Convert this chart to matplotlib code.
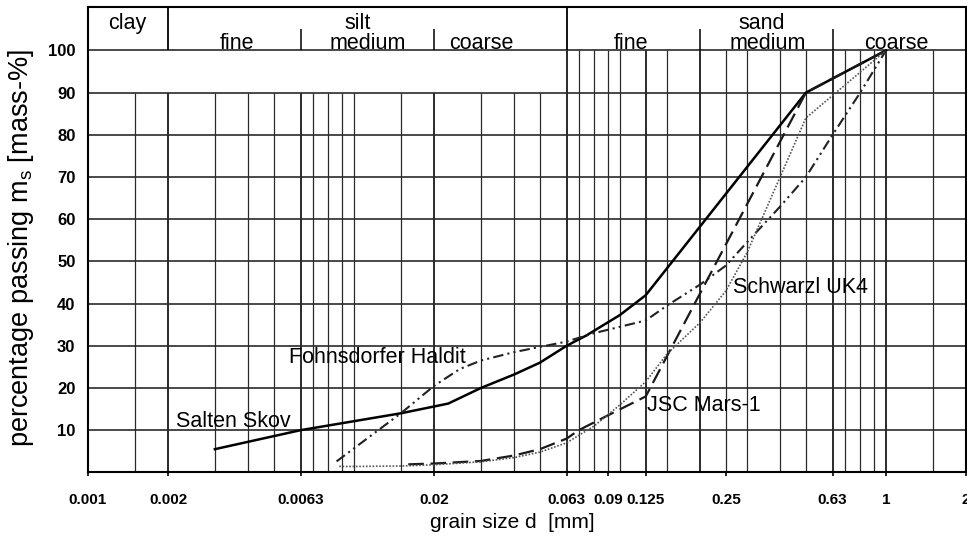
import matplotlib
matplotlib.use("Agg")
import matplotlib.pyplot as plt

plt.rcParams["font.family"] = ["Liberation Sans", "DejaVu Sans"]
plt.rcParams["mathtext.default"] = "regular"

# grain size d [mm] vs. percentage passing [mass-%] for each material
salten_d = [0.003, 0.0063, 0.015, 0.0226, 0.03, 0.04, 0.05, 0.063, 0.075, 0.1, 0.125, 0.5, 1.0]
salten_p = [5.5, 10, 14, 16.3, 20, 23.2, 26, 30, 32.5, 37.3, 42, 90, 100]

fohns_d = [0.0086, 0.015, 0.02, 0.025, 0.03, 0.04, 0.063, 0.08, 0.1, 0.125, 0.15, 0.2, 0.25,
           0.3, 0.4, 0.5, 0.63, 0.8, 1.0]
fohns_p = [2.6, 14, 20.5, 24.5, 26.5, 28.5, 31, 33, 34.5, 36, 39.5, 44.5, 49,
           54.5, 63, 70, 80, 90, 100]

jsc_d = [0.016, 0.02, 0.03, 0.04, 0.05, 0.063, 0.07, 0.09, 0.125, 0.5, 1.0]
jsc_p = [1.9, 2.1, 2.7, 4, 5.5, 8, 10, 13.5, 18, 90, 100]

schw_d = [0.0088, 0.01, 0.015, 0.02, 0.03, 0.04, 0.05, 0.063, 0.08, 0.1, 0.125, 0.15, 0.2,
          0.25, 0.3, 0.4, 0.5, 1.0]
schw_p = [1.4, 1.4, 1.5, 1.8, 2.5, 3.5, 4.8, 7, 11, 16, 21.5, 28, 35.5,
          43, 52, 70, 84, 100]

xticks = [0.001, 0.002, 0.0063, 0.02, 0.063, 0.09, 0.125, 0.25, 0.63, 1, 2]
xtick_labels = ["0.001", "0.002", "0.0063", "0.02", "0.063", "0.09", "0.125", "0.25", "0.63", "1", "2"]
yticks = [10, 20, 30, 40, 50, 60, 70, 80, 90, 100]

# grid lines of the sieve chart: clay/silt part stops at 90 %, sand part runs to 100 %
grid_fine = [0.0015, 0.002, 0.003, 0.004, 0.005, 0.0063, 0.007, 0.008, 0.009, 0.01,
             0.015, 0.02, 0.03, 0.04, 0.05]
grid_sand = [0.063, 0.07, 0.08, 0.09, 0.1, 0.125, 0.15, 0.2, 0.25, 0.3, 0.4, 0.5,
             0.63, 0.7, 0.8, 0.9, 1.0, 1.5]
heavy = [0.002, 0.0063, 0.02, 0.063, 0.125, 0.2, 0.63, 1.0]

# soil class header
classes = ["clay", "silt", "sand"]
class_x = [0.00141, 0.0103, 0.34]
sub_names = ["fine", "medium", "coarse", "fine", "medium", "coarse"]
sub_x = [0.00363, 0.0113, 0.030, 0.110, 0.360, 1.09]
class_edges = [0.002, 0.063]
sub_edges = [0.0063, 0.02, 0.2, 0.63]

YTOP = 110.3
GRID = "#2a2a2a"

fig = plt.figure(figsize=(9.67, 5.38), dpi=100)
ax = fig.add_axes([0.091, 0.122, 0.908, 0.865])
ax.set_xscale("log")
ax.set_xlim(0.001, 2)
ax.set_ylim(0, YTOP)

for x in grid_fine:
    ax.vlines(x, 0, 90, color=GRID, lw=1.4 if x in heavy else 0.9, zorder=1)
for x in grid_sand:
    ax.vlines(x, 0, 100, color=GRID, lw=1.4 if x in heavy else 0.9, zorder=1)
ax.hlines(yticks, 0.001, 2, color=GRID, lw=1.2, zorder=1)
ax.vlines(class_edges, 100, YTOP, color="black", lw=1.3, zorder=1)
ax.vlines(sub_edges, 100, 105, color="black", lw=1.1, zorder=1)

fs = 15.5
for name, x in zip(classes, class_x):
    ax.text(x, 105.0, name, ha="center", va="baseline", fontsize=fs)
for name, x in zip(sub_names, sub_x):
    ax.text(x, 100.4, name, ha="center", va="baseline", fontsize=fs)

ax.plot(salten_d, salten_p, color="black", lw=1.8, ls="-", zorder=3)
ax.plot(fohns_d, fohns_p, color="#222222", lw=1.5, ls=(0, (5, 2, 1, 2, 1, 2)), zorder=3)
ax.plot(jsc_d, jsc_p, color="#1a1a1a", lw=1.6, ls=(0, (7, 3)), zorder=3)
ax.plot(schw_d, schw_p, color="#555555", lw=1.2, ls=(0, (1, 1)), zorder=3)

ax.text(0.00214, 12.1, "Salten Skov", fontsize=fs, va="center", ha="left", zorder=4)
ax.text(0.0057, 27.3, "Fohnsdorfer Haldit", fontsize=fs, va="center", ha="left", zorder=4)
ax.text(0.126, 15.8, "JSC Mars-1", fontsize=fs, va="center", ha="left", zorder=4)
ax.text(0.266, 43.8, "Schwarzl UK4", fontsize=fs, va="center", ha="left", zorder=4)

ax.set_xticks(xticks)
ax.set_xticklabels(xtick_labels)
ax.xaxis.set_minor_locator(matplotlib.ticker.NullLocator())
ax.set_yticks(yticks)
ax.tick_params(axis="x", direction="out", length=3, width=1.2, pad=12,
               labelsize=11)
ax.tick_params(axis="y", length=0, pad=9, labelsize=12)
for lab in ax.get_xticklabels() + ax.get_yticklabels():
    lab.set_fontweight("bold")

for sp in ax.spines.values():
    sp.set_linewidth(1.5)

fig.text(512 / 967, 1 - 523 / 538, "grain size d  [mm]", ha="center", va="center", fontsize=15)
fig.text(21 / 967, 1 - 248 / 538, "percentage passing m$_{s}$ [mass-%]", rotation=90,
         ha="center", va="center", fontsize=19.5)

fig.savefig("out.png", dpi=100)
